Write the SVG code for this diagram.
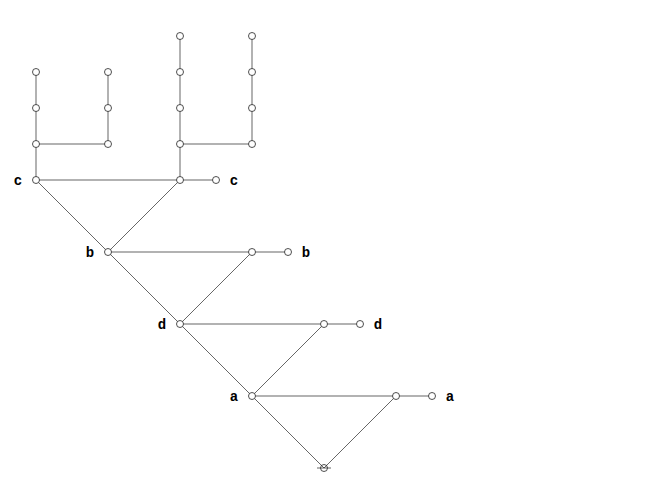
<svg xmlns="http://www.w3.org/2000/svg" width="648" height="504" viewBox="0 0 648 504">
<style>
.g{stroke:#999;stroke-width:1.5;fill:none}
.k{stroke:#000;stroke-width:0.6;fill:none}
.n{fill:#fff;stroke:#222;stroke-width:0.8}
.t{font-family:"Liberation Mono","Courier New",monospace;font-weight:bold;font-size:14px;fill:#000;text-anchor:middle}
</style>
<rect width="648" height="504" fill="#fff"/>
<g id="connectors">
<path class="g" d="M36,180V72M36,144H108M108,144V72M36,180H216M180,180V36M180,144H252M252,144V36M108,252H288M180,324H360M252,396H432M317,468H331"/>
<path class="k" d="M36,180L108,252L180,180M108,252L180,324L252,252M180,324L252,396L324,324M252,396L324,468L396,396"/>
</g>
<g id="nodes">
<g id="c1"><circle class="n" cx="36" cy="180" r="3.5"/><text class="t" x="18" y="185">c</text></g>
<g id="c2"><circle class="n" cx="180" cy="180" r="3.5"/></g>
<g id="c3"><circle class="n" cx="216" cy="180" r="3.5"/><text class="t" x="234" y="185">c</text></g>
<g id="t1"><circle class="n" cx="36" cy="144" r="3.5"/><circle class="n" cx="36" cy="108" r="3.5"/><circle class="n" cx="36" cy="72" r="3.5"/></g>
<g id="t2"><circle class="n" cx="108" cy="144" r="3.5"/><circle class="n" cx="108" cy="108" r="3.5"/><circle class="n" cx="108" cy="72" r="3.5"/></g>
<g id="t3"><circle class="n" cx="180" cy="144" r="3.5"/><circle class="n" cx="180" cy="108" r="3.5"/><circle class="n" cx="180" cy="72" r="3.5"/><circle class="n" cx="180" cy="36" r="3.5"/></g>
<g id="t4"><circle class="n" cx="252" cy="144" r="3.5"/><circle class="n" cx="252" cy="108" r="3.5"/><circle class="n" cx="252" cy="72" r="3.5"/><circle class="n" cx="252" cy="36" r="3.5"/></g>
<g id="b1"><circle class="n" cx="108" cy="252" r="3.5"/><text class="t" x="90" y="257">b</text></g>
<g id="b2"><circle class="n" cx="252" cy="252" r="3.5"/></g>
<g id="b3"><circle class="n" cx="288" cy="252" r="3.5"/><text class="t" x="306" y="257">b</text></g>
<g id="d1"><circle class="n" cx="180" cy="324" r="3.5"/><text class="t" x="162" y="329">d</text></g>
<g id="d2"><circle class="n" cx="324" cy="324" r="3.5"/></g>
<g id="d3"><circle class="n" cx="360" cy="324" r="3.5"/><text class="t" x="378" y="329">d</text></g>
<g id="a1"><circle class="n" cx="252" cy="396" r="3.5"/><text class="t" x="234" y="401">a</text></g>
<g id="a2"><circle class="n" cx="396" cy="396" r="3.5"/></g>
<g id="a3"><circle class="n" cx="432" cy="396" r="3.5"/><text class="t" x="450" y="401">a</text></g>
<g id="root"><circle class="n" cx="324" cy="468" r="3.5" fill-opacity="0"/></g>
</g>
</svg>
